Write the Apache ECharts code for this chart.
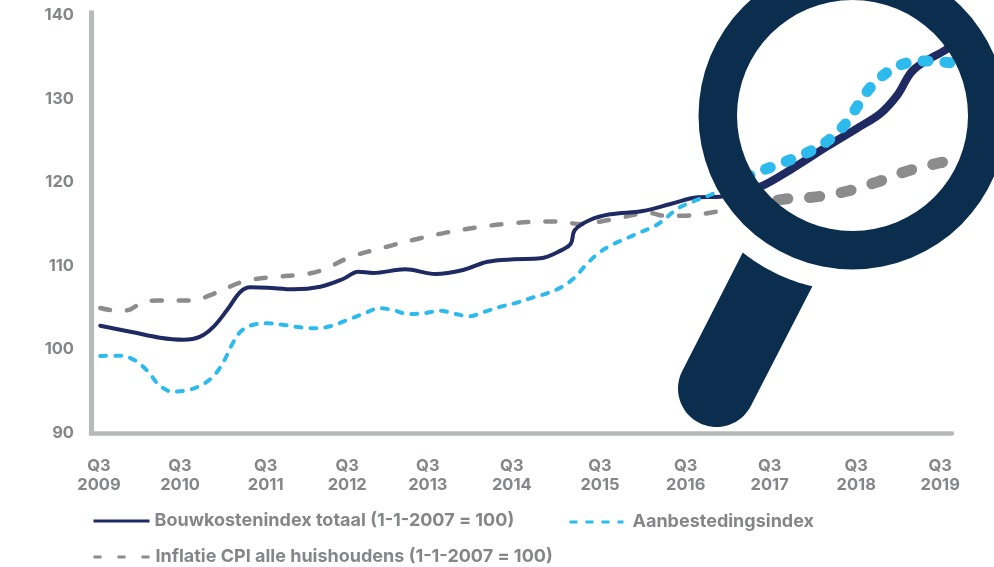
<!DOCTYPE html>
<html>
<head>
<meta charset="utf-8">
<style>html,body{margin:0;padding:0;background:#fff}#c{width:994px;height:567px}</style>
<script src="https://cdn.jsdelivr.net/npm/echarts@6/dist/echarts.min.js"></script>
</head>
<body>
<div id="c"></div>
<script>
const bouwYears = [2009.50,2009.89,2010.21,2010.49,2010.69,2010.85,2011.01,2011.17,2011.29,2011.49,2011.80,2012.12,2012.39,2012.57,2012.75,2013.13,2013.49,2013.82,2014.11,2014.42,2014.74,2014.98,2015.10,2015.15,2015.33,2015.57,2015.96,2016.29,2016.61,2016.88,2017.12,2017.36,2017.75,2018.15,2018.51,2018.79,2018.99,2019.18,2019.56,2019.64];
const bouwValues = [102.83,102.05,101.40,101.16,101.52,102.72,104.71,106.90,107.43,107.38,107.19,107.50,108.42,109.29,109.14,109.58,109.02,109.50,110.49,110.78,110.90,111.81,112.61,114.28,115.48,116.16,116.56,117.39,118.19,118.27,118.80,119.46,121.70,124.25,126.45,128.24,130.43,133.42,135.81,136.29];
const aanbYears = [2009.50,2009.74,2009.92,2010.07,2010.20,2010.36,2010.55,2010.73,2010.87,2010.98,2011.06,2011.17,2011.31,2011.50,2011.69,2011.88,2012.08,2012.26,2012.44,2012.62,2012.83,2012.98,2013.17,2013.35,2013.54,2013.73,2013.89,2014.08,2014.27,2014.46,2014.64,2014.82,2015.00,2015.15,2015.27,2015.42,2015.57,2015.75,2015.93,2016.11,2016.23,2016.38,2016.58,2016.76,2017.12,2017.27,2017.50,2017.74,2017.98,2018.19,2018.37,2018.51,2018.65,2018.83,2019.06,2019.31,2019.57,2019.65];
const aanbValues = [99.21,99.25,98.65,97.33,95.74,94.94,95.14,95.86,97.06,98.73,100.41,102.12,102.92,103.12,102.92,102.64,102.52,102.83,103.52,104.20,104.92,104.71,104.23,104.32,104.63,104.23,103.96,104.51,105.11,105.59,106.18,106.71,107.50,108.62,109.98,111.41,112.40,113.21,114.01,114.80,115.68,116.88,117.79,118.47,120.14,120.98,121.85,122.78,123.85,125.17,126.96,129.03,131.11,132.86,134.14,134.50,134.34,134.26];
const cpiYears = [2009.50,2009.71,2009.86,2010.00,2010.18,2010.61,2010.81,2011.20,2011.49,2011.85,2012.12,2012.48,2012.92,2013.31,2013.63,2013.99,2014.30,2014.62,2014.94,2015.21,2015.57,2016.05,2016.20,2016.44,2016.85,2017.12,2017.63,2018.04,2018.40,2018.76,2019.12,2019.50,2019.62];
const cpiValues = [104.95,104.60,104.80,105.63,105.85,105.85,106.50,108.10,108.60,108.90,109.40,111.05,112.30,113.30,114.00,114.60,115.00,115.25,115.30,115.00,115.50,116.30,116.00,116.00,116.50,117.10,117.95,118.27,118.95,120.06,121.38,122.33,122.54];
const xTickPositions = [2009.485,2010.45,2011.47,2012.44,2013.40,2014.40,2015.45,2016.47,2017.47,2018.50,2019.50];
const xTickLabels = ['Q3\n2009','Q3\n2010','Q3\n2011','Q3\n2012','Q3\n2013','Q3\n2014','Q3\n2015','Q3\n2016','Q3\n2017','Q3\n2018','Q3\n2019'];
const yTicks = [90,100,110,120,130,140];
const nameBouw = 'Bouwkostenindex totaal (1-1-2007 = 100)';
const nameAanb = 'Aanbestedingsindex';
const nameCpi = 'Inflatie CPI alle huishoudens (1-1-2007 = 100)';
const lensStart = 2017.12;

const FONT = 'Inter';
const TXT = '#858688', AXIS = '#b8b9bb', NAVY = '#0b2e4f';
const DARK = '#1f2a63', BLUE = '#2dbbee', GREY = '#8c8c8c';

function pairs(xs, ys, inLens) {
  const out = [];
  xs.forEach((x, i) => { if (inLens ? x >= lensStart : x <= lensStart) out.push([x, ys[i]]); });
  return out;
}
function line(name, xs, ys, inLens, color, width, dash, offset) {
  return {
    type: 'line', name, data: pairs(xs, ys, inLens), smooth: 0.35, showSymbol: false, symbol: 'none',
    clip: false, silent: true, z: 2,
    lineStyle: { color, width, type: dash || 'solid', dashOffset: offset || 0, cap: 'round', join: 'round' },
    itemStyle: { color }
  };
}
function legend(name, left, top, color, dash, width, textGap) {
  return {
    data: [name], left, top, padding: 0, orient: 'horizontal', itemWidth: width, itemHeight: 14, selectedMode: false,
    textStyle: { color: TXT, fontFamily: FONT, fontWeight: 700, fontSize: 18, padding: [0, 0, 0, textGap] },
    lineStyle: { color, width: 3, type: dash, cap: 'butt' },
    itemStyle: { color: 'transparent', borderColor: 'transparent', borderWidth: 0, opacity: 0 }
  };
}
// Magnifier handle outline: arc against the lens, straight sides, round end.
function arcPoints(cx, cy, r, fromDeg, toDeg, steps) {
  const pts = [];
  for (let i = 0; i <= steps; i++) {
    const a = (fromDeg + (toDeg - fromDeg) * i / steps) * Math.PI / 180;
    pts.push([cx + r * Math.cos(a), cy + r * Math.sin(a)]);
  }
  return pts;
}
const handlePoints = arcPoints(852.5, 115.5, 175.5, 128.7, 103.2, 24)
  .concat(arcPoints(716.5, 388.5, 38.5, 26, 208, 48));

const chart = echarts.init(document.getElementById('c'), null, { renderer: 'canvas' });
chart.setOption({
  animation: false,
  backgroundColor: '#fff',
  grid: { left: 91, top: 13, width: 861, height: 420, containLabel: false },
  xAxis: {
    type: 'value', min: 2009.39, max: 2019.64,
    axisLine: { show: true, onZero: false, lineStyle: { color: AXIS, width: 4.5 } },
    axisTick: { show: false }, splitLine: { show: false },
    axisLabel: {
      customValues: xTickPositions, margin: 24, lineHeight: 19,
      formatter: (v) => xTickLabels[xTickPositions.indexOf(v)],
      color: TXT, fontFamily: FONT, fontWeight: 700, fontSize: 16.5
    }
  },
  yAxis: {
    type: 'value', min: 90, max: 140.24,
    axisLine: { show: true, onZero: false, lineStyle: { color: AXIS, width: 5, cap: 'square' } },
    axisTick: { show: false }, splitLine: { show: false },
    axisLabel: {
      customValues: yTicks, margin: 17,
      color: TXT, fontFamily: FONT, fontWeight: 700, fontSize: 16.5
    }
  },
  legend: [
    legend(nameBouw, 92, 512, DARK, 'solid', 56, 0),
    legend(nameAanb, 568, 513, BLUE, [8, 8], 54, 4),
    legend(nameCpi, 92, 548, GREY, [8, 16], 56, 1)
  ],
  series: [
    line(nameCpi, cpiYears, cpiValues, false, GREY, 4.5, [10, 17]),
    line(nameBouw, bouwYears, bouwValues, false, DARK, 4),
    line(nameAanb, aanbYears, aanbValues, false, BLUE, 4, [6, 9]),
    line(nameCpi, cpiYears, cpiValues, true, GREY, 11, [10, 22], -6),
    line(nameBouw, bouwYears, bouwValues, true, DARK, 8),
    line(nameAanb, aanbYears, aanbValues, true, BLUE, 11, [5, 17], -6)
  ],
  graphic: [
    { type: 'ring', z: 100, silent: true, shape: { cx: 852.5, cy: 115.5, r: 154, r0: 115.5 }, style: { fill: NAVY } },
    { type: 'polygon', z: 100, silent: true, shape: { points: handlePoints }, style: { fill: NAVY } }
  ]
});
</script>
</body>
</html>
